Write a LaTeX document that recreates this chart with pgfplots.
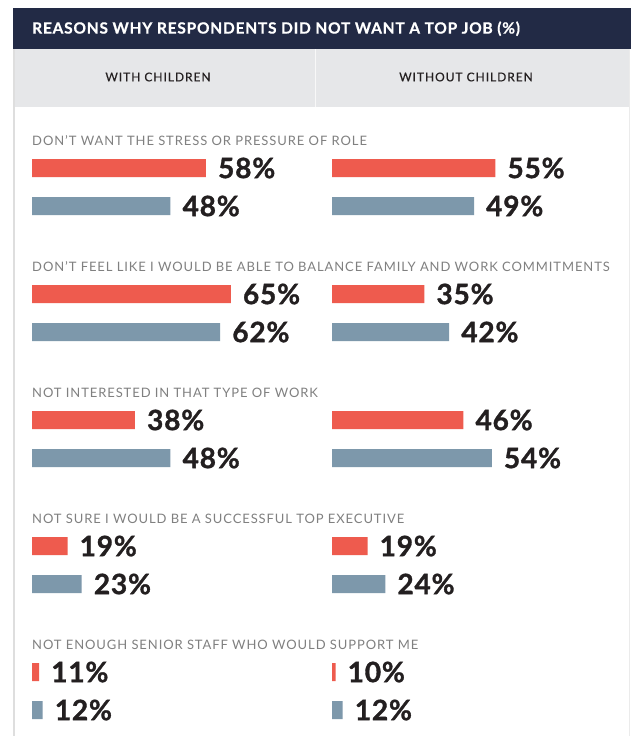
\documentclass[border=0pt]{standalone}
\usepackage{fontspec}
\setmainfont{Lato}
\usepackage{pgfplots}
\usepackage{pgfplotstable}
\pgfplotsset{compat=1.18}

\definecolor{barred}{HTML}{EE5B4E}
\definecolor{barblue}{HTML}{7D98AB}
\definecolor{navy}{HTML}{222A45}
\definecolor{band}{HTML}{E6E7E9}
\definecolor{rulec}{HTML}{DEDEDE}
\definecolor{cattext}{HTML}{808080}
\definecolor{valtext}{HTML}{231F20}

\newfontfamily\titlefont{Lato}[LetterSpace=5, BoldFeatures={FakeBold=0.6}]
\newfontfamily\headfont{Lato}[LetterSpace=8, FakeBold=0.4]
\newfontfamily\catfont{Lato}[LetterSpace=7]
\newfontfamily\valfont{Lato}[LetterSpace=3, BoldFeatures={FakeBold=1.2}]

% row = vertical position of the bar (px from top)
\pgfplotstableread{
row with without
168 58 55
294 65 35
420 38 46
546 19 19
672 11 10
}\redtab
\pgfplotstableread{
row with without
206 48 49
332 62 42
458 48 54
584 23 24
710 12 12
}\bluetab

\pgfplotsset{barcol/.style={
  x=3.55pt, y=1pt, y dir=reverse,
  xmin=9, xmax=85, ymin=0, ymax=736,
  hide axis, anchor=north west,
  xbar, bar width=18pt,
  /pgf/number format/assume math mode=true,
  nodes near coords={\pgfmathprintnumber{\pgfplotspointmeta}\%},
  nodes near coords align=horizontal,
  every node near coord/.append style={anchor=west, inner sep=0pt, xshift=12pt,
    font=\valfont\bfseries\fontsize{28}{31}\selectfont, text=valtext},
}}

\begin{document}
\begin{tikzpicture}
\useasboundingbox (0,0) rectangle (631pt,-736pt);
\fill[white] (0,0) rectangle (631pt,-736pt);
\fill[navy] (13pt,-8pt) rectangle (631pt,-49pt);
\fill[band] (13pt,-49pt) rectangle (630pt,-107pt);
\draw[white!70!band, line width=1pt] (315pt,-49pt) -- (315pt,-107pt);
\draw[rulec, line width=1.5pt] (13.75pt,-49pt) -- (13.75pt,-736pt);
\draw[rulec!60, line width=1.5pt] (629.25pt,-49pt) -- (629.25pt,-736pt);

\node[anchor=base west, inner sep=0pt, text=white, font=\titlefont\bfseries\fontsize{15.5}{18}\selectfont]
  at (32pt,-33.6pt) {REASONS WHY RESPONDENTS DID NOT WANT A TOP JOB (\%)};
\node[anchor=base, text=valtext, font=\headfont\fontsize{12}{14}\selectfont]
  at (158pt,-81.3pt) {WITH CHILDREN};
\node[anchor=base, text=valtext, font=\headfont\fontsize{12}{14}\selectfont]
  at (466pt,-81.3pt) {WITHOUT CHILDREN};

\foreach \lab [count=\i from 0] in {%
  DON’T WANT THE STRESS OR PRESSURE OF ROLE,
  DON’T FEEL LIKE I WOULD BE ABLE TO BALANCE FAMILY AND WORK COMMITMENTS,
  NOT INTERESTED IN THAT TYPE OF WORK,
  NOT SURE I WOULD BE A SUCCESSFUL TOP EXECUTIVE,
  NOT ENOUGH SENIOR STAFF WHO WOULD SUPPORT ME}
  \node[anchor=base west, inner sep=0pt, text=cattext, font=\catfont\fontsize{13}{15}\selectfont]
    at (32pt,{-145.6pt-126pt*\i}) {\lab};

\begin{axis}[barcol, at={(32pt,0pt)}]
  \addplot[fill=barred, draw=none, bar shift=0pt] table[x=with, y=row] {\redtab};
  \addplot[fill=barblue, draw=none, bar shift=0pt] table[x=with, y=row] {\bluetab};
\end{axis}
\begin{axis}[barcol, at={(332pt,0pt)}]
  \addplot[fill=barred, draw=none, bar shift=0pt] table[x=without, y=row] {\redtab};
  \addplot[fill=barblue, draw=none, bar shift=0pt] table[x=without, y=row] {\bluetab};
\end{axis}
\end{tikzpicture}
\end{document}
